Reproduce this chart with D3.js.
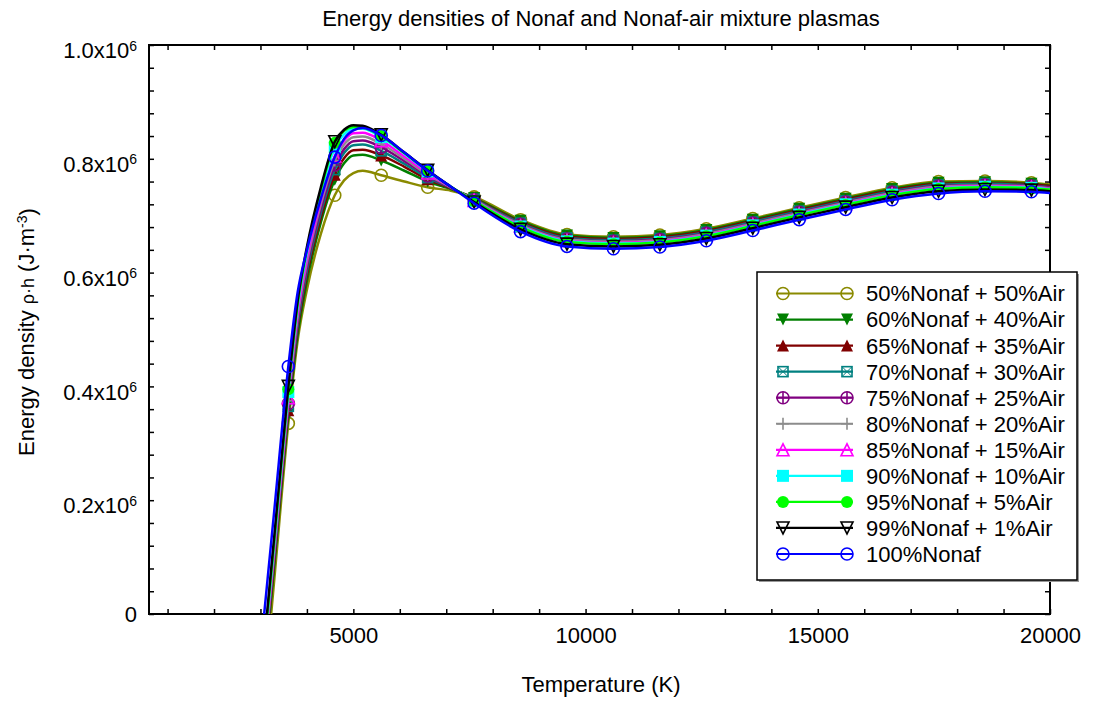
<!DOCTYPE html>
<html>
<head>
<meta charset="utf-8">
<script src="https://cdn.jsdelivr.net/npm/d3@7"></script>
<style>
  body { margin: 0; background: #fff; }
  svg text { font-family: "Liberation Sans", Arial, sans-serif; fill: #000; }
</style>
</head>
<body>
<svg id="chart" width="1093" height="701"></svg>
<script>
// sample temperatures (K)
const temps = [3000, 3300, 3600, 3800, 4000, 4300, 4600, 4800, 5000, 5200, 5600, 6100, 6600, 7100, 7600,
  8600, 9600, 10600, 11600, 12600, 13600, 14600, 15600, 16600, 17600, 18600, 19600, 20000];
// temperatures that carry a symbol
const markerTemps = [3600, 4600, 5600, 6600, 7600, 8600, 9600, 10600, 11600, 12600, 13600, 14600,
  15600, 16600, 17600, 18600, 19600];

// energy density in units of 10^6 J/m3, one array per mixture
const nonaf50 = [-0.208, 0.063, 0.335, 0.480, 0.570, 0.668, 0.736, 0.762, 0.775, 0.779, 0.771, 0.760, 0.750, 0.744, 0.733,
  0.693, 0.667, 0.663, 0.666, 0.677, 0.695, 0.714, 0.732, 0.749, 0.760, 0.761, 0.758, 0.755];
const nonaf60 = [-0.175, 0.088, 0.350, 0.490, 0.585, 0.688, 0.763, 0.792, 0.806, 0.807, 0.797, 0.779, 0.760, 0.747, 0.731,
  0.691, 0.665, 0.661, 0.664, 0.675, 0.693, 0.712, 0.730, 0.747, 0.758, 0.759, 0.756, 0.753];
const nonaf65 = [-0.166, 0.096, 0.358, 0.500, 0.595, 0.697, 0.772, 0.801, 0.815, 0.816, 0.806, 0.786, 0.764, 0.748, 0.730,
  0.689, 0.663, 0.659, 0.662, 0.673, 0.691, 0.710, 0.728, 0.745, 0.756, 0.757, 0.755, 0.752];
const nonaf70 = [-0.156, 0.104, 0.365, 0.508, 0.603, 0.705, 0.781, 0.810, 0.824, 0.825, 0.814, 0.791, 0.767, 0.749, 0.729,
  0.687, 0.661, 0.657, 0.660, 0.671, 0.689, 0.708, 0.726, 0.743, 0.754, 0.756, 0.753, 0.750];
const nonaf75 = [-0.152, 0.109, 0.370, 0.515, 0.610, 0.712, 0.789, 0.817, 0.831, 0.832, 0.820, 0.796, 0.770, 0.749, 0.728,
  0.685, 0.659, 0.655, 0.658, 0.669, 0.687, 0.706, 0.724, 0.741, 0.752, 0.754, 0.752, 0.749];
const nonaf80 = [-0.148, 0.113, 0.375, 0.522, 0.618, 0.720, 0.797, 0.825, 0.838, 0.839, 0.826, 0.800, 0.772, 0.750, 0.728,
  0.684, 0.658, 0.654, 0.657, 0.668, 0.686, 0.705, 0.723, 0.740, 0.751, 0.753, 0.751, 0.748];
const nonaf85 = [-0.144, 0.118, 0.380, 0.530, 0.625, 0.727, 0.805, 0.832, 0.845, 0.846, 0.832, 0.804, 0.775, 0.750, 0.727,
  0.682, 0.656, 0.652, 0.655, 0.666, 0.684, 0.703, 0.721, 0.738, 0.749, 0.752, 0.750, 0.747];
const nonaf90 = [-0.136, 0.127, 0.390, 0.540, 0.635, 0.740, 0.820, 0.843, 0.853, 0.853, 0.838, 0.809, 0.778, 0.751, 0.726,
  0.681, 0.655, 0.651, 0.654, 0.665, 0.683, 0.702, 0.720, 0.737, 0.748, 0.751, 0.749, 0.746];
const nonaf95 = [-0.132, 0.132, 0.395, 0.545, 0.640, 0.745, 0.828, 0.849, 0.856, 0.855, 0.840, 0.810, 0.779, 0.751, 0.726,
  0.680, 0.654, 0.650, 0.653, 0.664, 0.682, 0.701, 0.719, 0.736, 0.747, 0.750, 0.748, 0.746];
const nonaf99 = [-0.122, 0.139, 0.400, 0.550, 0.645, 0.750, 0.830, 0.851, 0.859, 0.858, 0.842, 0.811, 0.780, 0.751, 0.724,
  0.676, 0.650, 0.646, 0.649, 0.660, 0.678, 0.697, 0.715, 0.732, 0.743, 0.746, 0.745, 0.743];
const nonaf100 = [-0.067, 0.184, 0.435, 0.565, 0.640, 0.730, 0.803, 0.835, 0.850, 0.854, 0.841, 0.811, 0.779, 0.751, 0.722,
  0.672, 0.646, 0.642, 0.645, 0.656, 0.674, 0.693, 0.711, 0.728, 0.739, 0.743, 0.742, 0.740];

const seriesNames = ["50%Nonaf + 50%Air", "60%Nonaf + 40%Air", "65%Nonaf + 35%Air", "70%Nonaf + 30%Air",
  "75%Nonaf + 25%Air", "80%Nonaf + 20%Air", "85%Nonaf + 15%Air", "90%Nonaf + 10%Air",
  "95%Nonaf + 5%Air", "99%Nonaf + 1%Air", "100%Nonaf"];
const seriesValues = [nonaf50, nonaf60, nonaf65, nonaf70, nonaf75, nonaf80, nonaf85, nonaf90, nonaf95, nonaf99, nonaf100];
const seriesColors = ["#8a8a00", "#007f00", "#800000", "#008080", "#800080", "#8c8c8c", "#ff00ff", "#00ffff",
  "#00ff00", "#000000", "#0000ff"];
const seriesSymbols = ["circle", "triDownFill", "triUpFill", "squareX", "circlePlus", "plus", "triUp",
  "squareFill", "circleFill", "triDown", "circle"];

const xMinorTicks = d3.range(1000, 20001, 1000);
const xTicks = [5000, 10000, 15000, 20000];
const yMinorTicks = d3.range(0, 1.0001, 0.04);
const yTicks = [0, 0.2, 0.4, 0.6, 0.8, 1.0];

const plot = {left: 149, right: 1050, top: 45, bottom: 614};

const svg = d3.select("#chart");

const x = d3.scaleLinear().domain([600, 20000]).range([plot.left, plot.right]);
const y = d3.scaleLinear().domain([0, 1.0]).range([plot.bottom, plot.top]);

svg.append("defs").append("clipPath").attr("id", "plotClip")
  .append("rect")
  .attr("x", plot.left).attr("y", plot.top)
  .attr("width", plot.right - plot.left).attr("height", plot.bottom - plot.top);

// title
svg.append("text")
  .attr("x", 601).attr("y", 26)
  .attr("text-anchor", "middle")
  .style("font-size", "22px")
  .text("Energy densities of Nonaf and Nonaf-air mixture plasmas");

// inward minor ticks on all four sides
const tickStyle = g => {
  g.select(".domain").remove();
  g.selectAll(".tick line").attr("stroke", "#000").attr("stroke-width", 1.5);
};
svg.append("g").attr("transform", `translate(0,${plot.bottom})`)
  .call(d3.axisBottom(x).tickValues(xMinorTicks).tickSize(-5).tickFormat(""))
  .call(tickStyle);
svg.append("g").attr("transform", `translate(0,${plot.top})`)
  .call(d3.axisTop(x).tickValues(xMinorTicks).tickSize(-5).tickFormat(""))
  .call(tickStyle);
svg.append("g").attr("transform", `translate(${plot.left},0)`)
  .call(d3.axisLeft(y).tickValues(yMinorTicks).tickSize(-5).tickFormat(""))
  .call(tickStyle);
svg.append("g").attr("transform", `translate(${plot.right},0)`)
  .call(d3.axisRight(y).tickValues(yMinorTicks).tickSize(-5).tickFormat(""))
  .call(tickStyle);

// x tick labels
svg.append("g").attr("transform", `translate(0,${plot.bottom})`)
  .call(d3.axisBottom(x).tickValues(xTicks).tickSize(0).tickPadding(13).tickFormat(d3.format("d")))
  .call(g => g.select(".domain").remove())
  .call(g => g.selectAll("text").style("font-size", "22px").attr("font-family", null));

// y tick labels as "0.2x10^6"
const yAxis = svg.append("g").attr("transform", `translate(${plot.left},0)`)
  .call(d3.axisLeft(y).tickValues(yTicks).tickSize(0).tickPadding(12).tickFormat(""))
  .call(g => g.select(".domain").remove());
yAxis.selectAll(".tick text")
  .attr("dy", d => d === 0 ? "0.36em" : "0.58em")
  .style("font-size", "22px")
  .attr("font-family", null)
  .each(function(d) {
    const t = d3.select(this);
    if (d === 0) { t.text("0"); return; }
    t.append("tspan").text(d3.format(".1f")(d) + "x10");
    t.append("tspan").attr("dy", "-0.55em").style("font-size", "14px").text("6");
  });

// frame
svg.append("rect")
  .attr("x", plot.left).attr("y", plot.top)
  .attr("width", plot.right - plot.left).attr("height", plot.bottom - plot.top)
  .attr("fill", "none").attr("stroke", "#000").attr("stroke-width", 2);

// axis titles
svg.append("text")
  .attr("x", 601).attr("y", 692)
  .attr("text-anchor", "middle")
  .style("font-size", "22px")
  .text("Temperature (K)");

const yTitle = svg.append("text")
  .attr("transform", "translate(34,332) rotate(-90)")
  .attr("text-anchor", "middle")
  .style("font-size", "22px");
yTitle.append("tspan").text("Energy density ");
yTitle.append("tspan").style("font-size", "18px").text("ρ·h");
yTitle.append("tspan").text(" (J·m");
yTitle.append("tspan").attr("dy", "-0.5em").style("font-size", "14px").text("-3");
yTitle.append("tspan").attr("dy", "0.35em").text(")");

// draw one symbol centred on (0,0)
function drawSymbol(g, type, color) {
  const s = 6;
  const stroke = sel => sel.attr("fill", "none").attr("stroke", color).attr("stroke-width", 1.6);
  if (type === "circle" || type === "circlePlus") {
    g.append("circle").attr("r", s).call(stroke);
  }
  if (type === "circleFill") {
    g.append("circle").attr("r", s).attr("fill", color);
  }
  if (type === "circlePlus" || type === "plus") {
    g.append("path").attr("d", `M${-s},0H${s}M0,${-s}V${s}`).call(stroke);
  }
  if (type === "triDownFill" || type === "triDown") {
    const p = g.append("path").attr("d", `M${-s},${-s}H${s}L0,${s}Z`);
    type === "triDownFill" ? p.attr("fill", color) : p.call(stroke);
  }
  if (type === "triUpFill" || type === "triUp") {
    const p = g.append("path").attr("d", `M${-s},${s}H${s}L0,${-s}Z`);
    type === "triUpFill" ? p.attr("fill", color) : p.call(stroke);
  }
  if (type === "squareFill") {
    g.append("rect").attr("x", -s).attr("y", -s).attr("width", 2 * s).attr("height", 2 * s).attr("fill", color);
  }
  if (type === "squareX") {
    g.append("rect").attr("x", -s + 1).attr("y", -s + 1).attr("width", 2 * s - 2).attr("height", 2 * s - 2).call(stroke);
    g.append("path").attr("d", `M${-s + 1},${-s + 1}L${s - 1},${s - 1}M${s - 1},${-s + 1}L${-s + 1},${s - 1}`)
      .call(stroke).attr("stroke-width", 1);
  }
}

const line = d3.line()
  .x(d => x(d.t))
  .y(d => y(d.v))
  .curve(d3.curveMonotoneX);

const curves = svg.append("g").attr("clip-path", "url(#plotClip)");

seriesValues.forEach((vals, i) => {
  const pts = temps.map((t, j) => ({t: t, v: vals[j]}));
  curves.append("path")
    .datum(pts)
    .attr("d", line)
    .attr("fill", "none")
    .attr("stroke", seriesColors[i])
    .attr("stroke-width", 2.5);

  curves.selectAll(null)
    .data(pts.filter(p => markerTemps.includes(p.t)))
    .join("g")
    .attr("transform", p => `translate(${x(p.t)},${y(p.v)})`)
    .each(function() { drawSymbol(d3.select(this), seriesSymbols[i], seriesColors[i]); });
});

// legend box with a small shadow
const legend = {x: 757, y: 272, w: 320, h: 308, rowStart: 293.5, rowGap: 26.05};
svg.append("rect")
  .attr("x", legend.x + 2).attr("y", legend.y + 2)
  .attr("width", legend.w).attr("height", legend.h)
  .attr("fill", "#999");
svg.append("rect")
  .attr("x", legend.x).attr("y", legend.y)
  .attr("width", legend.w).attr("height", legend.h)
  .attr("fill", "#fff").attr("stroke", "#000").attr("stroke-width", 1.5);

const rows = svg.append("g").selectAll("g")
  .data(seriesNames)
  .join("g")
  .attr("transform", (d, i) => `translate(0,${legend.rowStart + i * legend.rowGap})`);

rows.append("line")
  .attr("x1", 776).attr("x2", 853)
  .attr("stroke", (d, i) => seriesColors[i])
  .attr("stroke-width", 2.2);
rows.each(function(d, i) {
  [783, 847].forEach(cx => {
    const g = d3.select(this).append("g").attr("transform", `translate(${cx},0)`);
    drawSymbol(g, seriesSymbols[i], seriesColors[i]);
  });
});
rows.append("text")
  .attr("x", 866)
  .attr("dy", "0.36em")
  .style("font-size", "22px")
  .text(d => d);
</script>
</body>
</html>
